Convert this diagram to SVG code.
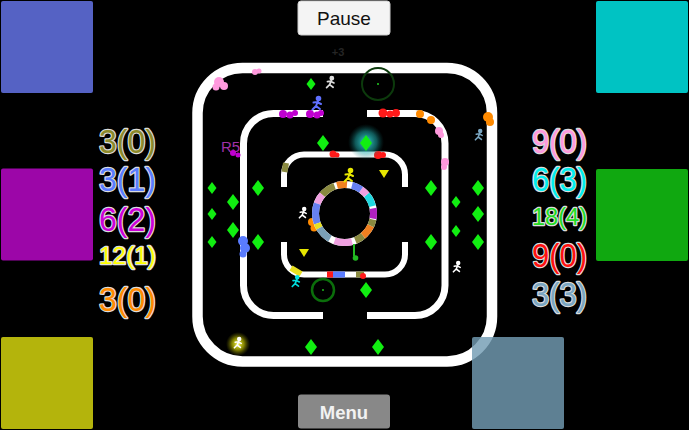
<svg xmlns="http://www.w3.org/2000/svg" width="689" height="430" viewBox="0 0 689 430">
<defs>
<style>
.score{font-family:"Liberation Sans",Arial,sans-serif;stroke:#dcdcdc;stroke-width:2.4;paint-order:stroke;stroke-linejoin:round;}
.wall{fill:none;stroke:#ffffff;}
.dia{fill:#11ee11;}
.tri{fill:#e6e600;}
</style>
<radialGradient id="cyanGlow">
<stop offset="0" stop-color="#3ff0f0" stop-opacity="0.9"/>
<stop offset="0.6" stop-color="#1fb0b0" stop-opacity="0.5"/>
<stop offset="1" stop-color="#0a6060" stop-opacity="0"/>
</radialGradient>
<radialGradient id="yellowGlow">
<stop offset="0" stop-color="#ffff60" stop-opacity="1"/>
<stop offset="0.5" stop-color="#dddd00" stop-opacity="0.6"/>
<stop offset="1" stop-color="#888800" stop-opacity="0"/>
</radialGradient>
<symbol id="runner" viewBox="0 0 12 15" overflow="visible">
<g fill="none" stroke="currentColor" stroke-width="2" stroke-linecap="round">
<circle cx="7.5" cy="2.5" r="1.8" fill="currentColor"/>
<path d="M7 5 L5 10 M2.5 6.5 L6 6 L10 8 M5 10 L1.5 13.5 M5 10 L9 13"/>
</g>
</symbol>
<polygon id="dL" points="0,-8 6,0 0,8 -6,0"/>
<polygon id="dS" points="0,-6 4.5,0 0,6 -4.5,0"/>
</defs>

<rect width="689" height="430" fill="#000"/>

<!-- colour squares -->
<g id="squares">
<rect id="sq-blue" x="1" y="1" width="92" height="92" rx="2" fill="#5562c4"/>
<rect id="sq-purple" x="1" y="168.5" width="92" height="92" rx="2" fill="#9c06a8"/>
<rect id="sq-olive" x="1" y="337" width="92" height="92" rx="2" fill="#b4b40c"/>
<rect id="sq-cyan" x="596" y="1" width="92" height="92" rx="2" fill="#00c3c3"/>
<rect id="sq-green" x="596" y="169" width="92" height="92" rx="2" fill="#10a810"/>
</g>

<!-- arena walls -->
<g id="walls">
<rect class="wall" x="197.5" y="68" width="294.5" height="293.5" rx="45" stroke-width="10.5"/>
<path class="wall" stroke-width="7" d="M323 113.5 H273.5 A30 30 0 0 0 243.5 143.5 V285.5 A30 30 0 0 0 273.5 315.5 H323"/>
<path class="wall" stroke-width="7" d="M367 113.5 H415 A30 30 0 0 1 445 143.5 V285.5 A30 30 0 0 1 415 315.5 H367"/>
<path class="wall" stroke-width="6" d="M284 187 V174.5 A20 20 0 0 1 304 154.5 H385 A20 20 0 0 1 405 174.5 V187"/>
<path class="wall" stroke-width="6" d="M284 242 V254.5 A20 20 0 0 0 304 274.5 H385 A20 20 0 0 0 405 254.5 V242"/>
</g>

<!-- paint splats -->
<g id="splats">
<g fill="#ff99dd">
<circle cx="219" cy="82" r="5"/><circle cx="224" cy="86" r="4"/><circle cx="216" cy="87" r="3.5"/>
<circle cx="255" cy="72" r="3"/><circle cx="259" cy="71" r="2.5"/>
<circle cx="439" cy="131" r="4"/><circle cx="441" cy="135" r="3"/>
<circle cx="445" cy="162" r="4"/><circle cx="444" cy="167" r="3"/>
</g>
<g fill="#ff8a00">
<circle cx="488" cy="117" r="5"/><circle cx="490" cy="122" r="4"/>
<circle cx="420" cy="114" r="4"/><circle cx="431" cy="120" r="4"/>
<circle cx="312" cy="222" r="4"/><circle cx="314" cy="228" r="3.5"/>
</g>
<g fill="#c000d0">
<circle cx="283" cy="114" r="4"/><circle cx="290" cy="115" r="3.5"/><circle cx="295" cy="113" r="3"/>
<circle cx="310" cy="114" r="4"/><circle cx="317" cy="115" r="3.5"/><circle cx="321" cy="113" r="3"/>
</g>
<g fill="#ff1a1a">
<circle cx="383" cy="113" r="4.5"/><circle cx="390" cy="114" r="3.5"/><circle cx="396" cy="113" r="4"/>
<circle cx="333" cy="154" r="3.5"/><circle cx="337" cy="155" r="2.5"/>
<circle cx="378" cy="155" r="4"/><circle cx="383" cy="155" r="3"/>
</g>
<g fill="#5a7cff">
<circle cx="243" cy="241" r="5"/><circle cx="245" cy="248" r="5"/><circle cx="243" cy="254" r="3.5"/>
</g>
<path d="M286 163 L284.5 172" stroke="#8a8a40" stroke-width="6" fill="none"/>
<path d="M291 268 L301 274" stroke="#e8e020" stroke-width="6" fill="none"/>
<path d="M327 274.5 H333" stroke="#ff1a1a" stroke-width="6"/>
<path d="M333 274.5 H345" stroke="#5a7cff" stroke-width="6"/>
<path d="M356 274.5 H364" stroke="#8a8a40" stroke-width="6"/>
<circle cx="363" cy="276" r="3" fill="#ff1a1a"/>
<text x="221" y="152" font-family="Liberation Sans,Arial,sans-serif" font-size="15" fill="#a030a8">R5</text>
<circle cx="233" cy="153" r="3" fill="#c000d0"/><circle cx="238" cy="155" r="2.5" fill="#c000d0"/>
</g>

<!-- central ring -->
<g id="ring">
<circle cx="344.5" cy="213.5" r="29" fill="none" stroke="#ffffff" stroke-width="7"/>
<g fill="none" stroke-width="7">
<circle cx="344.5" cy="213.5" r="29" pathLength="360" stroke="#b020c0" stroke-dasharray="20 340" stroke-dashoffset="-350"/>
<circle cx="344.5" cy="213.5" r="29" pathLength="360" stroke="#20d8e0" stroke-dasharray="25 335" stroke-dashoffset="-320"/>
<circle cx="344.5" cy="213.5" r="29" pathLength="360" stroke="#f0a0e0" stroke-dasharray="15 345" stroke-dashoffset="-305"/>
<circle cx="344.5" cy="213.5" r="29" pathLength="360" stroke="#6680f0" stroke-dasharray="20 340" stroke-dashoffset="-285"/>
<circle cx="344.5" cy="213.5" r="29" pathLength="360" stroke="#f08020" stroke-dasharray="20 340" stroke-dashoffset="-255"/>
<circle cx="344.5" cy="213.5" r="29" pathLength="360" stroke="#8a8a40" stroke-dasharray="30 330" stroke-dashoffset="-220"/>
<circle cx="344.5" cy="213.5" r="29" pathLength="360" stroke="#f0a0e0" stroke-dasharray="20 340" stroke-dashoffset="-200"/>
<circle cx="344.5" cy="213.5" r="29" pathLength="360" stroke="#6680f0" stroke-dasharray="40 320" stroke-dashoffset="-160"/>
<circle cx="344.5" cy="213.5" r="29" pathLength="360" stroke="#e8e020" stroke-dasharray="10 350" stroke-dashoffset="-150"/>
<circle cx="344.5" cy="213.5" r="29" pathLength="360" stroke="#7aa0b8" stroke-dasharray="30 330" stroke-dashoffset="-120"/>
<circle cx="344.5" cy="213.5" r="29" pathLength="360" stroke="#f0a0e0" stroke-dasharray="35 325" stroke-dashoffset="-75"/>
<circle cx="344.5" cy="213.5" r="29" pathLength="360" stroke="#8a8a40" stroke-dasharray="18 342" stroke-dashoffset="-50"/>
<circle cx="344.5" cy="213.5" r="29" pathLength="360" stroke="#f08020" stroke-dasharray="25 335" stroke-dashoffset="-25"/>
<circle cx="344.5" cy="213.5" r="29" pathLength="360" stroke="#8a8a40" stroke-dasharray="13 347" stroke-dashoffset="-12"/>
</g>
</g>

<!-- glows, circles -->
<g id="effects">
<circle cx="366" cy="142" r="18" fill="url(#cyanGlow)"/>
<circle cx="238" cy="344" r="12" fill="url(#yellowGlow)"/>
<circle cx="378" cy="84" r="16" fill="none" stroke="#0c3a0c" stroke-width="2"/>
<circle cx="378" cy="84" r="1" fill="#22cc22"/>
<circle cx="323" cy="290" r="11" fill="none" stroke="#0b6e0b" stroke-width="2.5"/>
<circle cx="323" cy="290" r="0.9" fill="#22cc22"/>
</g>

<!-- pickups -->
<g id="diamonds" class="dia">
<use href="#dS" x="311" y="84"/>
<use href="#dL" x="323" y="143"/>
<use href="#dL" x="366" y="143"/>
<use href="#dS" x="212" y="188"/>
<use href="#dL" x="258" y="188"/>
<use href="#dL" x="233" y="202"/>
<use href="#dS" x="212" y="214"/>
<use href="#dL" x="233" y="230"/>
<use href="#dS" x="212" y="242"/>
<use href="#dL" x="258" y="242"/>
<use href="#dL" x="431" y="188"/>
<use href="#dL" x="478" y="188"/>
<use href="#dS" x="456" y="202"/>
<use href="#dL" x="478" y="214"/>
<use href="#dS" x="456" y="231"/>
<use href="#dL" x="478" y="242"/>
<use href="#dL" x="431" y="242"/>
<use href="#dL" x="366" y="290"/>
<use href="#dL" x="311" y="347"/>
<use href="#dL" x="378" y="347"/>
</g>
<g id="triangles" class="tri">
<polygon points="379,170 389,170 384,178"/>
<polygon points="299,249 309,249 304,257"/>
</g>

<!-- characters -->
<g id="characters">
<use href="#runner" x="311" y="96" width="12" height="15" color="#6070ff"/>
<use href="#runner" x="343" y="168" width="12" height="15" color="#e8e800"/>
<use href="#runner" x="297" y="207" width="12" height="12" color="#ffffff"/>
<use href="#runner" x="325" y="76" width="11" height="13" color="#dddddd"/>
<use href="#runner" x="473" y="129" width="12" height="12" color="#7aa6c2"/>
<use href="#runner" x="451" y="261" width="12" height="12" color="#ffffff"/>
<use href="#runner" x="291" y="274" width="10" height="15" color="#00e0e0"/>
<use href="#runner" x="233" y="337" width="10" height="12" color="#ffffff"/>
<path d="M354 244 L354 256" stroke="#22bb22" stroke-width="2"/>
<circle cx="355.5" cy="258" r="2.8" fill="#22bb22"/>
<text x="338" y="56" font-family="Liberation Sans,Arial,sans-serif" font-size="11" font-weight="bold" fill="#252525" text-anchor="middle">+3</text>
</g>

<!-- semi-transparent square over the arena -->
<rect id="sq-steel" x="472" y="337" width="92" height="92" rx="2" fill="#739cb3" fill-opacity="0.82"/>

<!-- scores -->
<g id="scores-left" class="score">
<text x="99" y="153" font-size="33" fill="#8c8a2a" textLength="57" lengthAdjust="spacingAndGlyphs">3(0)</text>
<text x="99" y="190.5" font-size="33" fill="#5a7cff" textLength="57" lengthAdjust="spacingAndGlyphs">3(1)</text>
<text x="99" y="231" font-size="33" fill="#cc00d8" textLength="57" lengthAdjust="spacingAndGlyphs">6(2)</text>
<text x="99" y="264" font-size="23" fill="#ffff00" textLength="57" lengthAdjust="spacingAndGlyphs">12(1)</text>
<text x="99" y="310.5" font-size="33" fill="#ff8a00" textLength="57" lengthAdjust="spacingAndGlyphs">3(0)</text>
</g>
<g id="scores-right" class="score">
<text x="532" y="153" font-size="33" fill="#ff99dd" textLength="55" lengthAdjust="spacingAndGlyphs">9(0)</text>
<text x="532" y="190.5" font-size="33" fill="#00eeee" textLength="55" lengthAdjust="spacingAndGlyphs">6(3)</text>
<text x="532" y="225" font-size="23" fill="#22dd22" textLength="55" lengthAdjust="spacingAndGlyphs">18(4)</text>
<text x="532" y="266.5" font-size="33" fill="#ff1010" textLength="55" lengthAdjust="spacingAndGlyphs">9(0)</text>
<text x="532" y="305.5" font-size="33" fill="#7aa6c2" textLength="55" lengthAdjust="spacingAndGlyphs">3(3)</text>
</g>

<!-- buttons -->
<g id="btn-pause">
<rect x="298" y="1" width="92" height="34" rx="3" fill="#f4f4f4" stroke="#cfcfcf" stroke-width="1"/>
<text x="344" y="25" font-family="Liberation Sans,Arial,sans-serif" font-size="19" fill="#111" text-anchor="middle">Pause</text>
</g>
<g id="btn-menu">
<rect x="298" y="394.5" width="92" height="34" rx="3" fill="#888888"/>
<text x="344" y="418.5" font-family="Liberation Sans,Arial,sans-serif" font-size="18.5" font-weight="bold" fill="#f2f2f2" text-anchor="middle">Menu</text>
</g>
</svg>
